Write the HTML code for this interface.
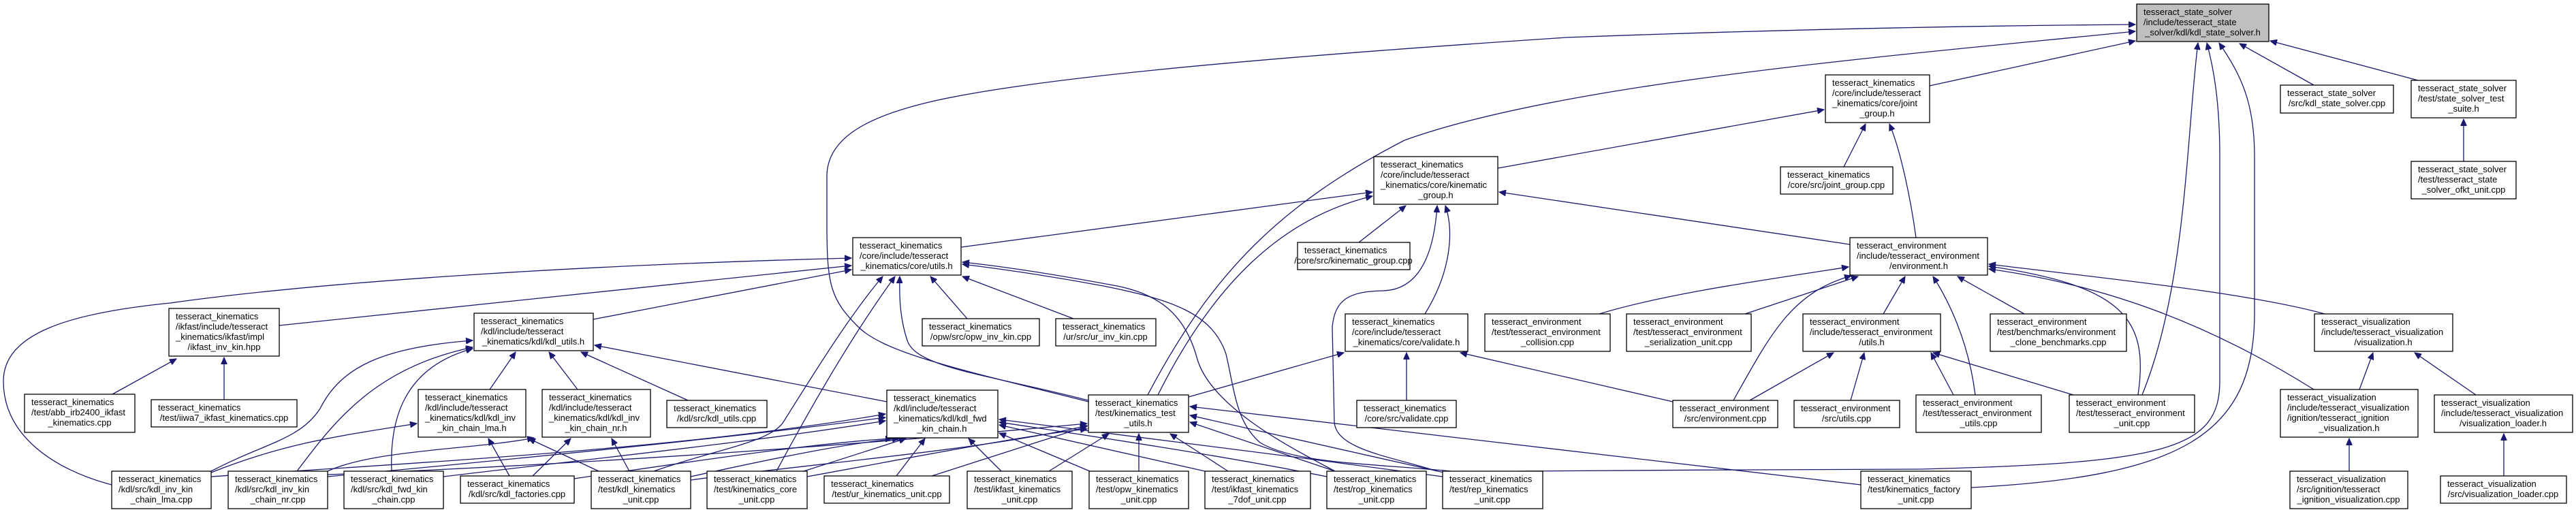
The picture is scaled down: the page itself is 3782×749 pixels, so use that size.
<!DOCTYPE html>
<html><head><meta charset="utf-8"><style>
html,body{margin:0;padding:0;background:#fff;}
svg{display:block;}
text{font-family:"Liberation Sans",Arial,sans-serif;font-size:13px;fill:#000;}
.e{fill:none;stroke:#191970;stroke-width:1.3;marker-end:url(#a);}
rect{fill:#fff;stroke:#000;stroke-width:1.3;}
</style></head><body>
<svg width="3782" height="749" viewBox="0 0 3782 749" xmlns="http://www.w3.org/2000/svg">
<defs><marker id="a" markerUnits="userSpaceOnUse" markerWidth="11" markerHeight="9" refX="10" refY="4.5" orient="auto"><path d="M0,0 L10,4.5 L0,9 z" fill="#191970" stroke="#191970"/></marker></defs>
<g>
<path class="e" d="M1598,590 C1420,545 1300,520 1260,480 C1220,440 1214,420 1214,330 L1214,259 C1214,200 1280,170 1364,150 C1500,118 1800,88 2300,55 C2700,40 3000,37 3135,36"/>
<path class="e" d="M1411,363 L2015,282"/>
<path class="e" d="M1685,580 C1780,400 1880,300 2062,206 C2300,120 2800,80 3135,46"/>
<path class="e" d="M1700,580 C1780,420 1880,320 2015,288"/>
<path class="e" d="M3397,125 L3288,64"/>
<path class="e" d="M3550,118 L3333,60"/>
<path class="e" d="M3617,237 L3617,175"/>
<path class="e" d="M2833,126 L3135,60"/>
<path class="e" d="M2199,247 L2678,161"/>
<path class="e" d="M2707,245 L2739,182"/>
<path class="e" d="M2813,349 C2805,290 2790,220 2774,182"/>
<path class="e" d="M2716,359 L2201,282"/>
<path class="e" d="M1995,356 L2064,302"/>
<path class="e" d="M2092,461 C2130,400 2135,340 2122,302"/>
<path class="e" d="M2110,692 C2040,670 1962,660 1959,620 L1956,480 C1960,440 1980,428 2030,427 C2080,426 2105,380 2110,302"/>
<path class="e" d="M1745,583 L1973,518"/>
<path class="e" d="M2065,588 L2065,518"/>
<path class="e" d="M2456,590 L2144,518"/>
<path class="e" d="M2348,461 C2450,430 2600,410 2714,392"/>
<path class="e" d="M2562,461 L2728,406"/>
<path class="e" d="M2545,588 C2600,490 2630,430 2718,405"/>
<path class="e" d="M2765,461 L2797,406"/>
<path class="e" d="M2569,588 L2692,518"/>
<path class="e" d="M2717,588 L2737,518"/>
<path class="e" d="M2868,580 L2835,518"/>
<path class="e" d="M2900,580 C2890,500 2860,440 2838,406"/>
<path class="e" d="M3044,580 L2838,518"/>
<path class="e" d="M3139,580 C3155,470 3120,420 2920,391"/>
<path class="e" d="M2972,461 L2874,406"/>
<path class="e" d="M3413,461 C3300,430 3100,410 2920,388"/>
<path class="e" d="M3397,572 C3250,480 3100,420 2920,395"/>
<path class="e" d="M3464,572 L3484,518"/>
<path class="e" d="M3635,580 L3545,518"/>
<path class="e" d="M3449,692 L3449,644"/>
<path class="e" d="M3676,699 L3676,637"/>
<path class="e" d="M3145,580 C3210,420 3210,200 3227,63"/>
<path class="e" d="M2894,716 C3200,700 3310,640 3310,460 L3310,230 C3310,150 3290,110 3258,63"/>
<path class="e" d="M2230,692 C2400,690 2700,690 2820,689 C3180,680 3259,660 3259,560 L3259,230 C3259,150 3250,100 3240,63"/>
<path class="e" d="M2732,712 L1747,597"/>
<path class="e" d="M164,712 C80,690 5,640 5,560 C5,490 100,460 250,445 C500,410 900,388 1250,379"/>
<path class="e" d="M410,478 L1250,390"/>
<path class="e" d="M871,469 L1250,396"/>
<path class="e" d="M1420,468 L1366,406"/>
<path class="e" d="M1576,468 L1413,406"/>
<path class="e" d="M1598,588 C1450,550 1345,540 1332,500 C1322,470 1320,440 1321,406"/>
<path class="e" d="M1140,692 C1200,580 1260,480 1314,406"/>
<path class="e" d="M960,692 C1050,660 1130,650 1150,620 C1200,540 1250,460 1296,406"/>
<path class="e" d="M1960,692 C1900,660 1780,600 1758,528 C1740,460 1700,432 1640,420 C1560,405 1480,392 1413,385"/>
<path class="e" d="M2130,692 C2000,680 1900,680 1850,650 C1815,620 1813,576 1800,520 C1780,460 1720,440 1620,420 C1540,405 1470,395 1413,388"/>
<path class="e" d="M1302,590 L873,507"/>
<path class="e" d="M719,572 L757,517"/>
<path class="e" d="M848,572 L806,517"/>
<path class="e" d="M1010,588 L853,517"/>
<path class="e" d="M310,692 C390,650 440,646 470,600 C500,540 560,510 694,500"/>
<path class="e" d="M436,692 C490,620 550,540 694,510"/>
<path class="e" d="M575,692 C572,620 590,540 694,512"/>
<path class="e" d="M165,579 L259,527"/>
<path class="e" d="M329,587 L329,525"/>
<path class="e" d="M310,694 C420,650 500,640 612,622"/>
<path class="e" d="M748,699 L717,644"/>
<path class="e" d="M879,692 L776,644"/>
<path class="e" d="M481,692 C550,660 700,660 784,643"/>
<path class="e" d="M782,699 L838,644"/>
<path class="e" d="M924,692 L898,644"/>
<path class="e" d="M310,700 C600,680 1000,660 1300,608"/>
<path class="e" d="M481,700 C800,670 1100,640 1300,613"/>
<path class="e" d="M651,700 C900,670 1100,650 1300,618"/>
<path class="e" d="M843,703 C1000,680 1200,650 1310,644"/>
<path class="e" d="M1014,700 C1150,670 1250,650 1320,644"/>
<path class="e" d="M1180,692 L1330,644"/>
<path class="e" d="M1316,699 L1358,644"/>
<path class="e" d="M1470,692 L1422,644"/>
<path class="e" d="M1600,692 L1467,636"/>
<path class="e" d="M1769,692 L1467,624"/>
<path class="e" d="M1948,700 C1800,670 1600,640 1467,620"/>
<path class="e" d="M2118,700 C1900,670 1650,640 1467,616"/>
<path class="e" d="M1014,705 C1200,680 1450,660 1596,625"/>
<path class="e" d="M1185,700 C1350,670 1500,640 1596,630"/>
<path class="e" d="M1368,699 L1596,626"/>
<path class="e" d="M1540,692 L1628,637"/>
<path class="e" d="M1672,692 L1672,637"/>
<path class="e" d="M1803,692 L1718,637"/>
<path class="e" d="M1960,692 L1747,620"/>
<path class="e" d="M2120,694 L1747,610"/>
<path class="e" d="M481,697 C900,680 1300,650 1596,622"/>
</g>
<g>
<rect x="3137" y="6" width="194" height="55" style="fill:#bfbfbf"/><text x="3147" y="22">tesseract_state_solver</text><text x="3147" y="37">/include/tesseract_state</text><text x="3234" y="52" text-anchor="middle">_solver/kdl/kdl_state_solver.h</text>
<rect x="3348" y="125" width="166" height="41"/><text x="3358" y="141">tesseract_state_solver</text><text x="3431" y="156" text-anchor="middle">/src/kdl_state_solver.cpp</text>
<rect x="3540" y="118" width="154" height="55"/><text x="3550" y="134">tesseract_state_solver</text><text x="3550" y="149">/test/state_solver_test</text><text x="3617" y="164" text-anchor="middle">_suite.h</text>
<rect x="3540" y="237" width="154" height="55"/><text x="3550" y="253">tesseract_state_solver</text><text x="3550" y="268">/test/tesseract_state</text><text x="3617" y="283" text-anchor="middle">_solver_ofkt_unit.cpp</text>
<rect x="2680" y="110" width="153" height="70"/><text x="2690" y="126">tesseract_kinematics</text><text x="2690" y="141">/core/include/tesseract</text><text x="2690" y="156">_kinematics/core/joint</text><text x="2756" y="171" text-anchor="middle">_group.h</text>
<rect x="2614" y="245" width="165" height="40"/><text x="2624" y="261">tesseract_kinematics</text><text x="2696" y="276" text-anchor="middle">/core/src/joint_group.cpp</text>
<rect x="2017" y="230" width="182" height="70"/><text x="2027" y="246">tesseract_kinematics</text><text x="2027" y="261">/core/include/tesseract</text><text x="2027" y="276">_kinematics/core/kinematic</text><text x="2108" y="291" text-anchor="middle">_group.h</text>
<rect x="1905" y="356" width="165" height="40"/><text x="1915" y="372">tesseract_kinematics</text><text x="1987" y="387" text-anchor="middle">/core/src/kinematic_group.cpp</text>
<rect x="2716" y="349" width="202" height="55"/><text x="2726" y="365">tesseract_environment</text><text x="2726" y="380">/include/tesseract_environment</text><text x="2817" y="395" text-anchor="middle">/environment.h</text>
<rect x="1975" y="461" width="180" height="55"/><text x="1985" y="477">tesseract_kinematics</text><text x="1985" y="492">/core/include/tesseract</text><text x="2065" y="507" text-anchor="middle">_kinematics/core/validate.h</text>
<rect x="1992" y="588" width="146" height="40"/><text x="2002" y="604">tesseract_kinematics</text><text x="2065" y="619" text-anchor="middle">/core/src/validate.cpp</text>
<rect x="2180" y="461" width="184" height="55"/><text x="2190" y="477">tesseract_environment</text><text x="2190" y="492">/test/tesseract_environment</text><text x="2272" y="507" text-anchor="middle">_collision.cpp</text>
<rect x="2388" y="461" width="183" height="55"/><text x="2398" y="477">tesseract_environment</text><text x="2398" y="492">/test/tesseract_environment</text><text x="2479" y="507" text-anchor="middle">_serialization_unit.cpp</text>
<rect x="2647" y="461" width="202" height="55"/><text x="2657" y="477">tesseract_environment</text><text x="2657" y="492">/include/tesseract_environment</text><text x="2748" y="507" text-anchor="middle">/utils.h</text>
<rect x="2922" y="461" width="200" height="55"/><text x="2932" y="477">tesseract_environment</text><text x="2932" y="492">/test/benchmarks/environment</text><text x="3022" y="507" text-anchor="middle">_clone_benchmarks.cpp</text>
<rect x="3398" y="461" width="203" height="55"/><text x="3408" y="477">tesseract_visualization</text><text x="3408" y="492">/include/tesseract_visualization</text><text x="3499" y="507" text-anchor="middle">/visualization.h</text>
<rect x="2456" y="588" width="154" height="40"/><text x="2466" y="604">tesseract_environment</text><text x="2533" y="619" text-anchor="middle">/src/environment.cpp</text>
<rect x="2634" y="588" width="155" height="40"/><text x="2644" y="604">tesseract_environment</text><text x="2711" y="619" text-anchor="middle">/src/utils.cpp</text>
<rect x="2813" y="580" width="184" height="55"/><text x="2823" y="596">tesseract_environment</text><text x="2823" y="611">/test/tesseract_environment</text><text x="2905" y="626" text-anchor="middle">_utils.cpp</text>
<rect x="3038" y="580" width="184" height="55"/><text x="3048" y="596">tesseract_environment</text><text x="3048" y="611">/test/tesseract_environment</text><text x="3130" y="626" text-anchor="middle">_unit.cpp</text>
<rect x="3348" y="572" width="202" height="70"/><text x="3358" y="588">tesseract_visualization</text><text x="3358" y="603">/include/tesseract_visualization</text><text x="3358" y="618">/ignition/tesseract_ignition</text><text x="3449" y="633" text-anchor="middle">_visualization.h</text>
<rect x="3574" y="580" width="203" height="55"/><text x="3584" y="596">tesseract_visualization</text><text x="3584" y="611">/include/tesseract_visualization</text><text x="3675" y="626" text-anchor="middle">/visualization_loader.h</text>
<rect x="3362" y="692" width="173" height="55"/><text x="3372" y="708">tesseract_visualization</text><text x="3372" y="723">/src/ignition/tesseract</text><text x="3448" y="738" text-anchor="middle">_ignition_visualization.cpp</text>
<rect x="3583" y="699" width="185" height="40"/><text x="3593" y="715">tesseract_visualization</text><text x="3675" y="730" text-anchor="middle">/src/visualization_loader.cpp</text>
<rect x="2732" y="692" width="162" height="55"/><text x="2742" y="708">tesseract_kinematics</text><text x="2742" y="723">/test/kinematics_factory</text><text x="2813" y="738" text-anchor="middle">_unit.cpp</text>
<rect x="1948" y="692" width="146" height="55"/><text x="1958" y="708">tesseract_kinematics</text><text x="1958" y="723">/test/rop_kinematics</text><text x="2021" y="738" text-anchor="middle">_unit.cpp</text>
<rect x="2118" y="692" width="147" height="55"/><text x="2128" y="708">tesseract_kinematics</text><text x="2128" y="723">/test/rep_kinematics</text><text x="2191" y="738" text-anchor="middle">_unit.cpp</text>
<rect x="1769" y="692" width="155" height="55"/><text x="1779" y="708">tesseract_kinematics</text><text x="1779" y="723">/test/ikfast_kinematics</text><text x="1846" y="738" text-anchor="middle">_7dof_unit.cpp</text>
<rect x="1252" y="349" width="159" height="55"/><text x="1262" y="365">tesseract_kinematics</text><text x="1262" y="380">/core/include/tesseract</text><text x="1331" y="395" text-anchor="middle">_kinematics/core/utils.h</text>
<rect x="1354" y="468" width="172" height="40"/><text x="1364" y="484">tesseract_kinematics</text><text x="1440" y="499" text-anchor="middle">/opw/src/opw_inv_kin.cpp</text>
<rect x="1550" y="468" width="147" height="40"/><text x="1560" y="484">tesseract_kinematics</text><text x="1623" y="499" text-anchor="middle">/ur/src/ur_inv_kin.cpp</text>
<rect x="979" y="588" width="147" height="40"/><text x="989" y="604">tesseract_kinematics</text><text x="1052" y="619" text-anchor="middle">/kdl/src/kdl_utils.cpp</text>
<rect x="1302" y="573" width="163" height="70"/><text x="1312" y="589">tesseract_kinematics</text><text x="1312" y="604">/kdl/include/tesseract</text><text x="1312" y="619">_kinematics/kdl/kdl_fwd</text><text x="1383" y="634" text-anchor="middle">_kin_chain.h</text>
<rect x="1598" y="580" width="147" height="55"/><text x="1608" y="596">tesseract_kinematics</text><text x="1608" y="611">/test/kinematics_test</text><text x="1671" y="626" text-anchor="middle">_utils.h</text>
<rect x="1038" y="692" width="147" height="55"/><text x="1048" y="708">tesseract_kinematics</text><text x="1048" y="723">/test/kinematics_core</text><text x="1111" y="738" text-anchor="middle">_unit.cpp</text>
<rect x="1210" y="699" width="184" height="40"/><text x="1220" y="715">tesseract_kinematics</text><text x="1302" y="730" text-anchor="middle">/test/ur_kinematics_unit.cpp</text>
<rect x="1420" y="692" width="154" height="55"/><text x="1430" y="708">tesseract_kinematics</text><text x="1430" y="723">/test/ikfast_kinematics</text><text x="1497" y="738" text-anchor="middle">_unit.cpp</text>
<rect x="1599" y="692" width="146" height="55"/><text x="1609" y="708">tesseract_kinematics</text><text x="1609" y="723">/test/opw_kinematics</text><text x="1672" y="738" text-anchor="middle">_unit.cpp</text>
<rect x="868" y="692" width="146" height="55"/><text x="878" y="708">tesseract_kinematics</text><text x="878" y="723">/test/kdl_kinematics</text><text x="941" y="738" text-anchor="middle">_unit.cpp</text>
<rect x="796" y="572" width="159" height="70"/><text x="806" y="588">tesseract_kinematics</text><text x="806" y="603">/kdl/include/tesseract</text><text x="806" y="618">_kinematics/kdl/kdl_inv</text><text x="875" y="633" text-anchor="middle">_kin_chain_nr.h</text>
<rect x="248" y="453" width="162" height="70"/><text x="258" y="469">tesseract_kinematics</text><text x="258" y="484">/ikfast/include/tesseract</text><text x="258" y="499">_kinematics/ikfast/impl</text><text x="329" y="514" text-anchor="middle">/ikfast_inv_kin.hpp</text>
<rect x="696" y="460" width="175" height="55"/><text x="706" y="476">tesseract_kinematics</text><text x="706" y="491">/kdl/include/tesseract</text><text x="783" y="506" text-anchor="middle">_kinematics/kdl/kdl_utils.h</text>
<rect x="36" y="579" width="162" height="56"/><text x="46" y="595">tesseract_kinematics</text><text x="46" y="610">/test/abb_irb2400_ikfast</text><text x="117" y="625" text-anchor="middle">_kinematics.cpp</text>
<rect x="222" y="587" width="214" height="40"/><text x="232" y="603">tesseract_kinematics</text><text x="329" y="618" text-anchor="middle">/test/iiwa7_ikfast_kinematics.cpp</text>
<rect x="614" y="572" width="158" height="70"/><text x="624" y="588">tesseract_kinematics</text><text x="624" y="603">/kdl/include/tesseract</text><text x="624" y="618">_kinematics/kdl/kdl_inv</text><text x="693" y="633" text-anchor="middle">_kin_chain_lma.h</text>
<rect x="164" y="692" width="146" height="55"/><text x="174" y="708">tesseract_kinematics</text><text x="174" y="723">/kdl/src/kdl_inv_kin</text><text x="237" y="738" text-anchor="middle">_chain_lma.cpp</text>
<rect x="335" y="692" width="146" height="55"/><text x="345" y="708">tesseract_kinematics</text><text x="345" y="723">/kdl/src/kdl_inv_kin</text><text x="408" y="738" text-anchor="middle">_chain_nr.cpp</text>
<rect x="505" y="692" width="146" height="55"/><text x="515" y="708">tesseract_kinematics</text><text x="515" y="723">/kdl/src/kdl_fwd_kin</text><text x="578" y="738" text-anchor="middle">_chain.cpp</text>
<rect x="676" y="699" width="167" height="40"/><text x="686" y="715">tesseract_kinematics</text><text x="759" y="730" text-anchor="middle">/kdl/src/kdl_factories.cpp</text>
</g>
</svg>
</body></html>
